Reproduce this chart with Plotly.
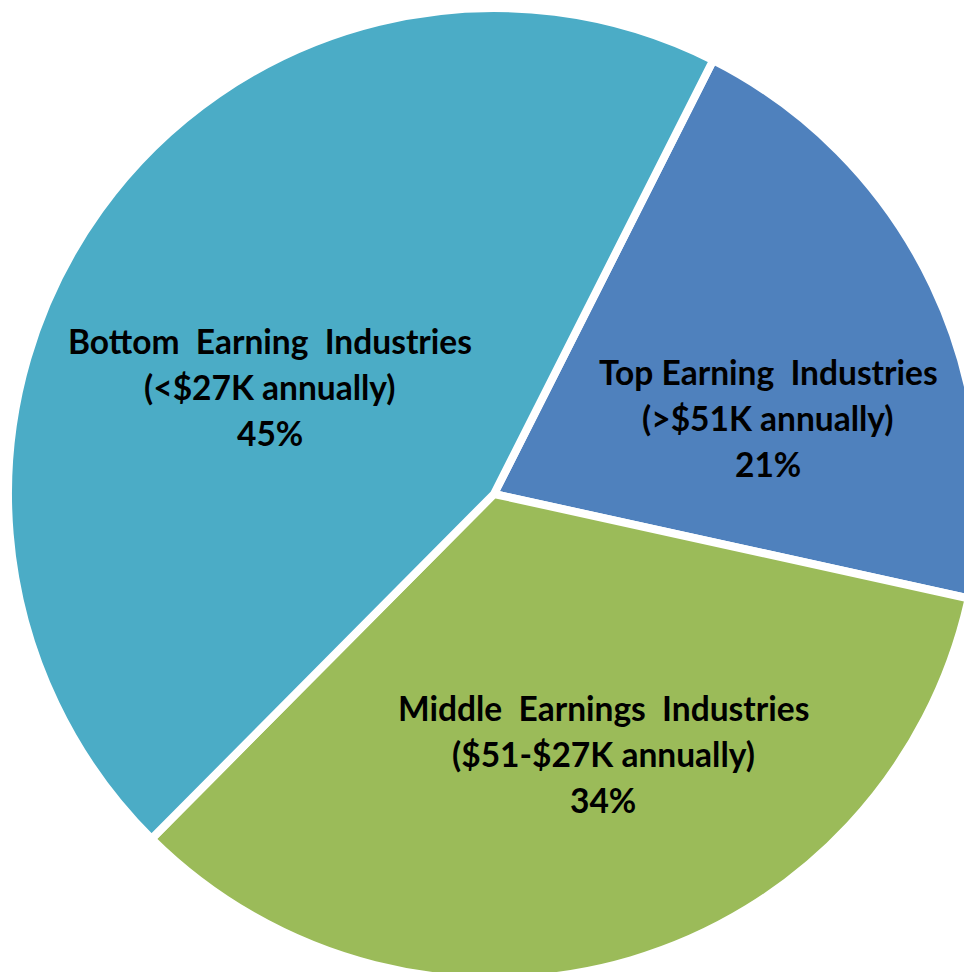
import plotly.graph_objects as go

names = ['Top Earning  Industries', 'Middle  Earnings  Industries', 'Bottom  Earning  Industries']
ranges = ['(>$51K annually)', '($51-$27K annually)', '(<$27K annually)']
values = [21, 34, 45]
colors = ['#4F81BD', '#9BBB59', '#4BACC6']

fig = go.Figure()
fig.add_trace(go.Pie(
    labels=names, values=values, sort=False, direction='clockwise', rotation=26.8,
    marker=dict(colors=colors, line=dict(color='white', width=8)),
    textinfo='none', hoverinfo='label+percent', showlegend=False,
))

# label blocks, placed like the Excel data labels (centre of the middle line)
label_pos = [(760 / 972, 1 - 410 / 972), (595 / 972, 1 - 746 / 972), (262 / 972, 1 - 379 / 972)]
total = sum(values)
for (x, y), n, r, v in zip(label_pos, names, ranges, values):
    for i, line in enumerate([n, r, f'{round(100 * v / total)}%']):
        fig.add_annotation(x=x, y=y, xref='paper', yref='paper', text=line,
                           xanchor='center', yanchor='middle',
                           showarrow=False, yshift=(1 - i) * 46,
                           font=dict(family='Lato', size=33.5, color='black', weight='bold'))

fig.update_layout(width=972, height=972, margin=dict(l=0, r=0, t=0, b=0),
                  paper_bgcolor='white')
fig.write_html('out.html')
